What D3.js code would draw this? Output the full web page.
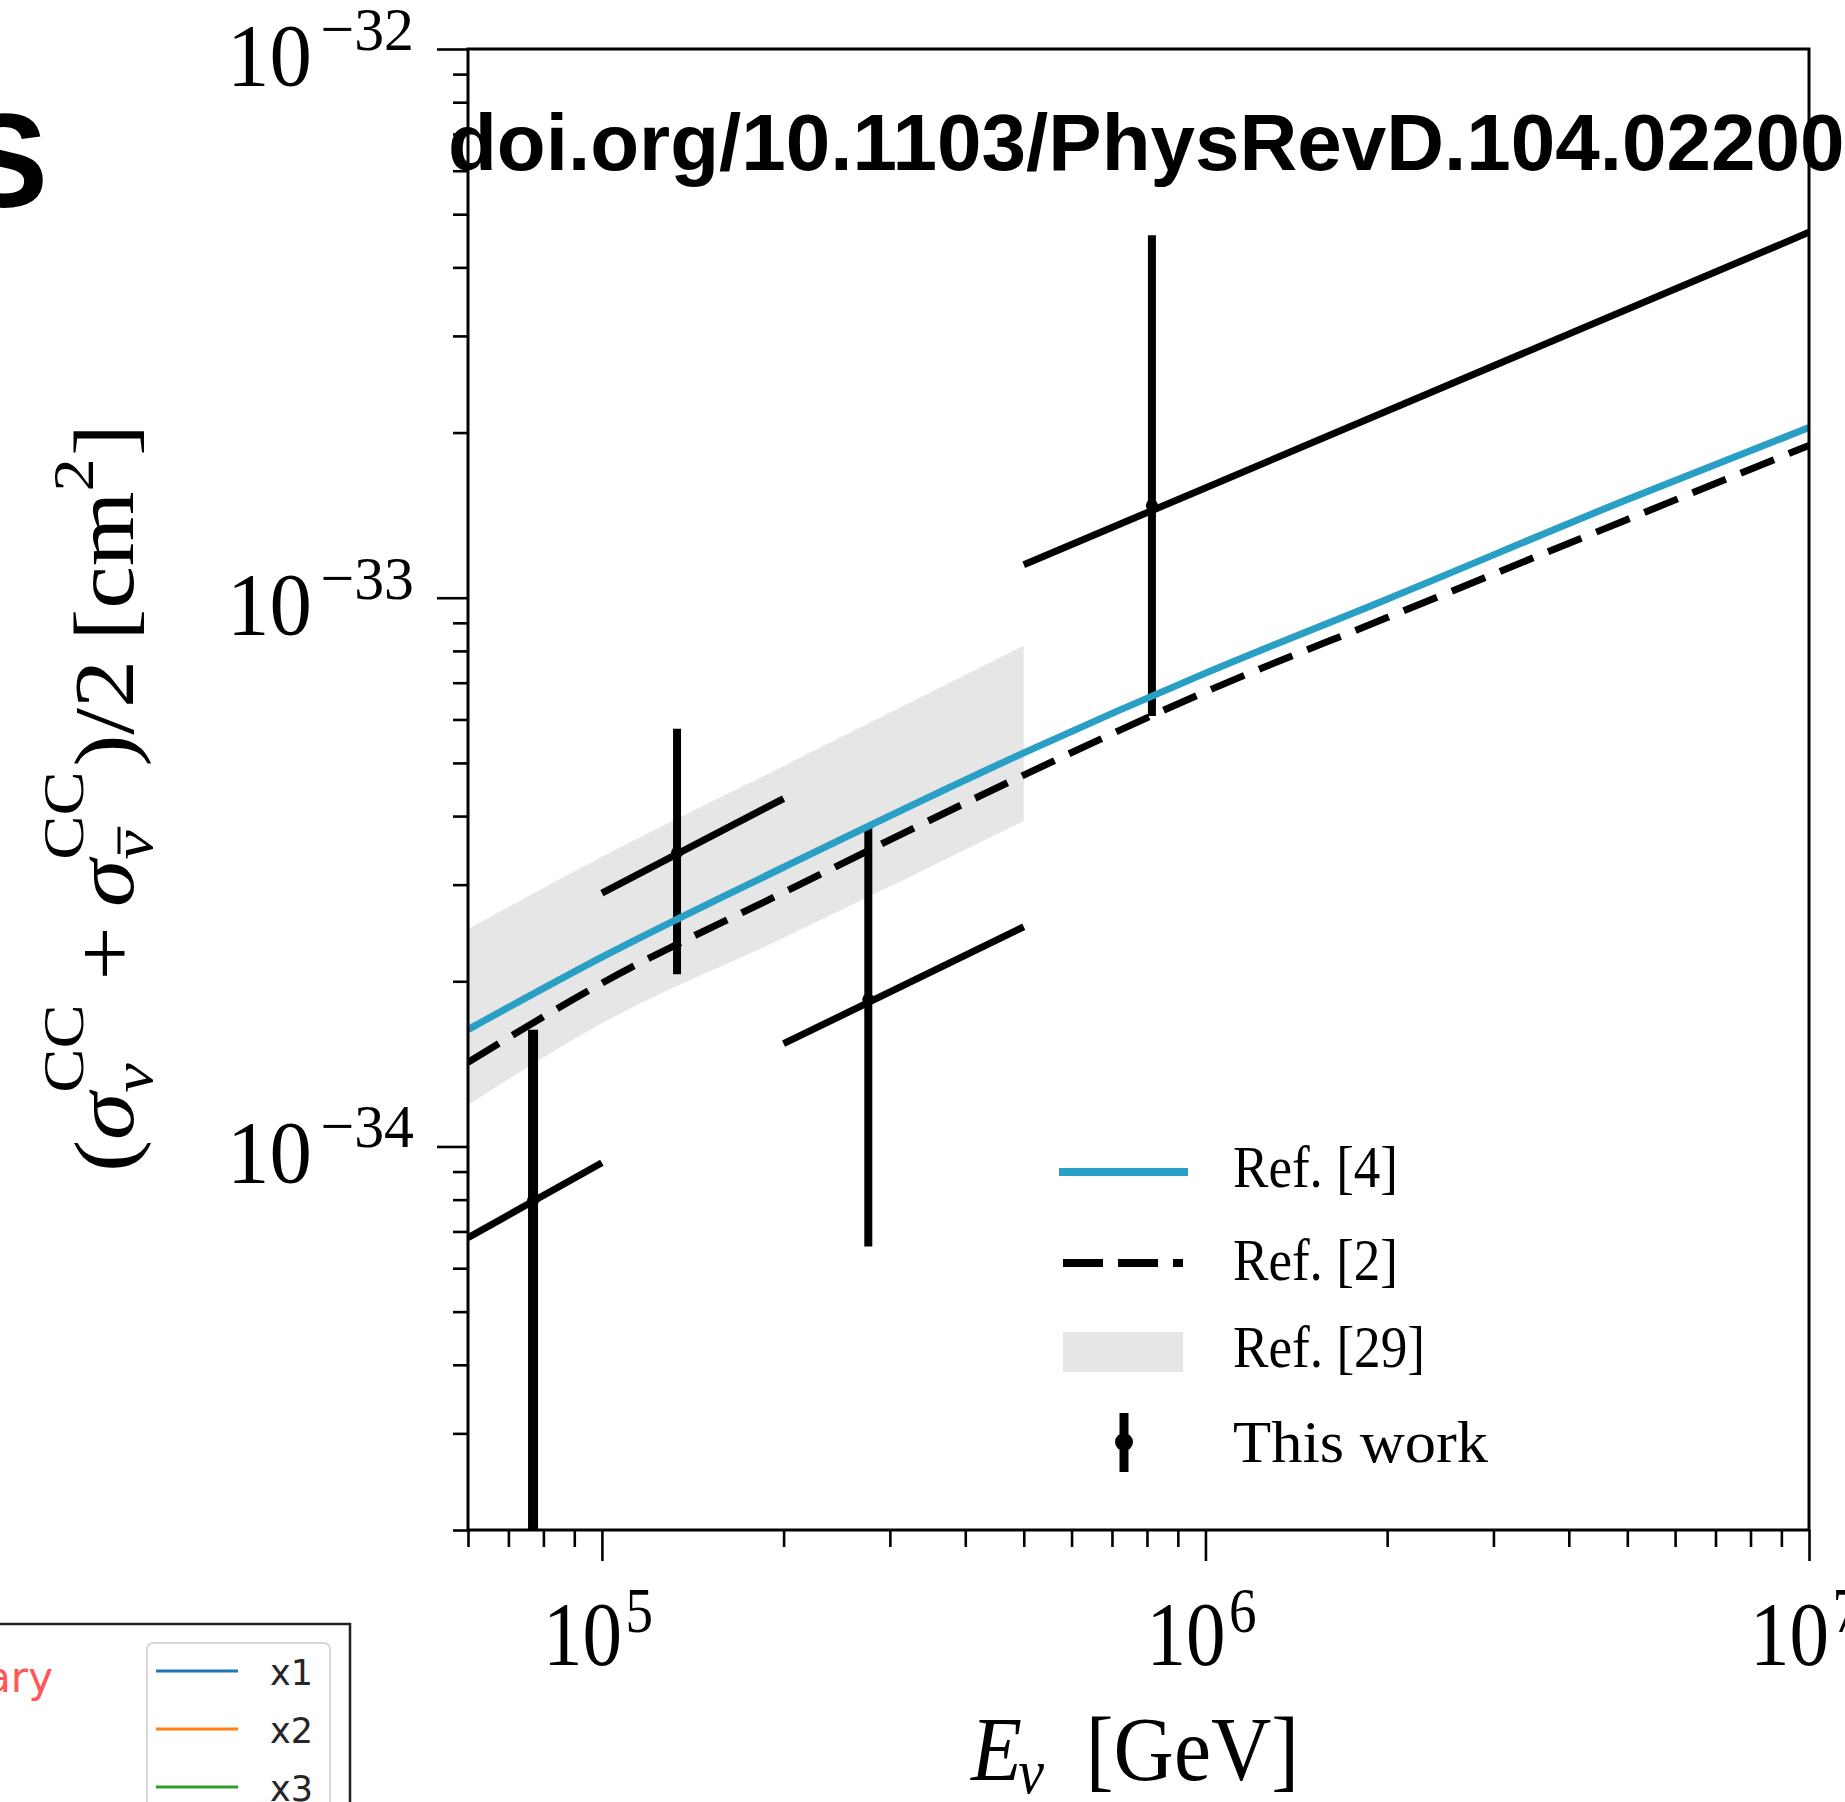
<!DOCTYPE html>
<html><head><meta charset="utf-8">
<script src="https://cdn.jsdelivr.net/npm/d3@7"></script>
<style>body{margin:0;background:#fff;overflow:hidden}</style>
</head><body>
<svg id="c" width="1845" height="1802"></svg>
<script>
// ---------- data ----------
const energyGrid = [6e4, 1e5, 2e5, 5e5, 1e6, 2e6, 5e6, 1e7];
const ref4 = [1.633e-34, 2.213e-34, 3.227e-34, 5.215e-34, 7.288e-34, 9.94e-34, 1.51e-33, 2.042e-33];
const ref2 = [1.423e-34, 1.984e-34, 2.903e-34, 4.751e-34, 6.738e-34, 9.20e-34, 1.389e-33, 1.895e-33];
const bandEnergy = [6e4, 1e5, 2e5, 5e5];
const ref29Upper = [2.49e-34, 3.372e-34, 4.938e-34, 8.178e-34];
const ref29Lower = [1.19e-34, 1.677e-34, 2.40e-34, 3.918e-34];
const binCenter = [7.69e4, 1.332e5, 2.763e5, 8.153e5];
const binLow = [6e4, 1e5, 2e5, 5e5];
const binHigh = [1e5, 2e5, 5e5, 1e7];
const sigmaCentral = [7.97e-35, 3.428e-34, 1.852e-34, 1.472e-33];
const sigmaUp = [1.632e-34, 5.77e-34, 3.837e-34, 4.577e-33];
const sigmaDown = [1e-36, 2.06e-34, 6.57e-35, 6.09e-34];
const segLowVal = [6.82e-35, 2.896e-34, 1.539e-34, 1.148e-33];
const segHighVal = [9.34e-35, 4.305e-34, 2.514e-34, 4.634e-33];
const xTickValues = [1e5, 1e6, 1e7];
const xTickExp = ["5", "6", "7"];
const yTickValues = [1e-34, 1e-33, 1e-32];
const yTickExp = ["\u221234", "\u221233", "\u221232"];
const legendLabels = ["Ref. [4]", "Ref. [2]", "Ref. [29]", "This work"];
const insetLabels = ["x1", "x2", "x3"];
const insetColors = ["#1f77b4", "#ff7f0e", "#2ca02c"];

// ---------- setup ----------
const svg = d3.select("#c");
const SERIF = "'Liberation Serif','DejaVu Serif',serif";
const L = 468, R = 1809, T = 49, B = 1530;
const x = d3.scaleLog().domain([6e4, 1e7]).range([L, R]);
const y = d3.scaleLog().domain([2e-35, 1e-32]).range([B, T]);
const blue = "#2a9fc6";

svg.append("defs").append("clipPath").attr("id", "plotclip")
  .append("rect").attr("x", L).attr("y", T).attr("width", R - L).attr("height", B - T);

// ---------- background texts ----------
svg.append("text").attr("x", 48).attr("y", 207).attr("text-anchor", "end")
  .attr("font-family", "'Liberation Sans',Arial,sans-serif").attr("font-weight", "bold")
  .attr("font-size", 133).text("S");

// inset (another figure, bottom-left)
const inset = svg.append("g");
inset.append("path").attr("d", "M-10,1624 L350,1624 L350,1812").attr("fill", "none")
  .attr("stroke", "#222").attr("stroke-width", 2.5);
inset.append("rect").attr("x", 147).attr("y", 1643).attr("width", 183).attr("height", 200)
  .attr("rx", 6).attr("fill", "#fff").attr("stroke", "#d6d6d6").attr("stroke-width", 2);
insetLabels.forEach((lab, i) => {
  const yy = 1671 + i * 58;
  inset.append("line").attr("x1", 156).attr("x2", 238).attr("y1", yy).attr("y2", yy)
    .attr("stroke", insetColors[i]).attr("stroke-width", 3.2);
  inset.append("text").attr("x", 270).attr("y", yy + 14).attr("font-family", "'DejaVu Sans',sans-serif")
    .attr("font-size", 35).attr("fill", "#262626").text(lab);
});
inset.append("text").attr("x", 53).attr("y", 1692).attr("text-anchor", "end")
  .attr("font-family", "'DejaVu Sans',sans-serif").attr("font-size", 42)
  .attr("fill", "#ff4040").attr("fill-opacity", 0.9).text("ary");

// ---------- data layer ----------
const plot = svg.append("g").attr("clip-path", "url(#plotclip)");

const band = d3.area().x((d, i) => x(bandEnergy[i])).y0((d, i) => y(ref29Lower[i]))
  .y1((d, i) => y(ref29Upper[i])).curve(d3.curveMonotoneX);
plot.append("path").attr("d", band(bandEnergy)).attr("fill", "#e6e6e6");

binCenter.forEach((e, i) => {
  plot.append("line").attr("x1", x(binLow[i])).attr("x2", x(binHigh[i]))
    .attr("y1", y(segLowVal[i])).attr("y2", y(segHighVal[i]))
    .attr("stroke", "#000").attr("stroke-width", 7);
  plot.append("line").attr("x1", x(e)).attr("x2", x(e))
    .attr("y1", y(sigmaUp[i])).attr("y2", y(sigmaDown[i]))
    .attr("stroke", "#000").attr("stroke-width", i === 0 ? 10 : 8);
  plot.append("circle").attr("cx", x(e)).attr("cy", y(sigmaCentral[i])).attr("r", 6).attr("fill", "#000");
});

const line = d3.line().x((d, i) => x(energyGrid[i])).y(d => y(d)).curve(d3.curveMonotoneX);
plot.append("path").attr("d", line(ref2)).attr("fill", "none").attr("stroke", "#000")
  .attr("stroke-width", 7).attr("stroke-dasharray", "36,16");
plot.append("path").attr("d", line(ref4)).attr("fill", "none").attr("stroke", blue)
  .attr("stroke-width", 7);

// ---------- axes ----------
function minorTicks(lo, hi) {
  const out = [];
  for (let p = Math.floor(Math.log10(lo)); p <= Math.ceil(Math.log10(hi)); p++)
    for (let m = 1; m <= 9; m++) { const v = m * Math.pow(10, p); if (v >= lo * 0.999 && v <= hi * 1.001) out.push(v); }
  return out;
}
const xMinor = minorTicks(6e4, 1e7).filter(v => !xTickValues.some(t => Math.abs(t - v) / t < 1e-6));
const yMinor = minorTicks(2e-35, 1e-32).filter(v => !yTickValues.some(t => Math.abs(t - v) / t < 1e-6));

function styleAxis(g) {
  g.select(".domain").remove();
  g.selectAll(".tick line").attr("stroke", "#000").attr("stroke-width", 2.6);
  g.selectAll(".tick text").remove();
}
svg.append("g").attr("transform", `translate(0,${B})`)
  .call(d3.axisBottom(x).tickValues(xMinor).tickSize(17).tickFormat("")).call(styleAxis);
svg.append("g").attr("transform", `translate(0,${B})`)
  .call(d3.axisBottom(x).tickValues(xTickValues).tickSize(31).tickFormat("")).call(styleAxis);
svg.append("g").attr("transform", `translate(${L},0)`)
  .call(d3.axisLeft(y).tickValues(yMinor).tickSize(15).tickFormat("")).call(styleAxis);
svg.append("g").attr("transform", `translate(${L},0)`)
  .call(d3.axisLeft(y).tickValues(yTickValues).tickSize(31).tickFormat("")).call(styleAxis);

svg.append("rect").attr("x", L).attr("y", T).attr("width", R - L).attr("height", B - T)
  .attr("fill", "none").attr("stroke", "#000").attr("stroke-width", 3);

// ---------- text helpers ----------
function txt(parent, s, o) {
  const t = parent.append("text").attr("x", o.x).attr("y", o.y).attr("font-family", o.font || SERIF)
    .attr("font-size", o.size).attr("font-style", o.it ? "italic" : "normal").text(s);
  if (o.w) t.attr("textLength", o.w).attr("lengthAdjust", "spacingAndGlyphs");
  if (o.anchor) t.attr("text-anchor", o.anchor);
  return t;
}
function power(parent, base, exp, o) {
  const t = parent.append("text").attr("x", o.x).attr("y", o.y).attr("font-family", SERIF)
    .attr("font-size", o.size).attr("textLength", o.w).attr("lengthAdjust", "spacingAndGlyphs");
  t.append("tspan").text(base);
  t.append("tspan").attr("dx", o.gap).attr("dy", -o.rise).attr("font-size", o.esize).text(exp);
  return t;
}
yTickValues.forEach((v, i) => {
  power(svg, "10", yTickExp[i], { x: 227, y: y(v) + 36, size: 88, esize: 62, w: 187, gap: 9, rise: 35 });
});
xTickValues.forEach((v, i) => {
  power(svg, "10", xTickExp[i], { x: x(v) - 59, y: 1665, size: 92, esize: 64, w: 110, gap: 4, rise: 33 });
});

// x label
(function () {
  const t = svg.append("text").attr("x", 971).attr("y", 1780).attr("font-family", SERIF)
    .attr("font-size", 92).attr("textLength", 328).attr("lengthAdjust", "spacingAndGlyphs");
  t.append("tspan").attr("font-style", "italic").text("E");
  t.append("tspan").attr("font-style", "italic").attr("font-size", 64).attr("dx", -4).attr("dy", 13).text("\u03BD");
  t.append("tspan").attr("dy", -13).text("\u2002[GeV]");
})();

// y label (rotated), flow layout then fit
(function () {
  const outer = svg.append("g").attr("transform", "translate(133,798) rotate(-90)");
  const g = outer.append("g");
  const F = 84, S = 58;
  const pieces = [
    { t: "(" }, { t: "\u03C3", it: true },
    { stack: [{ t: "CC", dy: -50 }, { t: "\u03BD", it: true, dy: 19 }] },
    { t: "\u2009+\u2009" }, { t: "\u03C3", it: true },
    { stack: [{ t: "CC", dy: -50 }, { t: "\u03BD", it: true, dy: 19, bar: true }] },
    { t: ")/2\u2009[cm" }, { sup: { t: "2", dy: -40 } }, { t: "]" }
  ];
  let cx = 0;
  pieces.forEach(p => {
    if (p.stack) {
      let w = 0;
      p.stack.forEach(q => {
        const t = txt(g, q.t, { x: cx, y: q.dy, size: S, it: q.it });
        const tw = t.node().getComputedTextLength();
        if (q.bar) g.append("line").attr("x1", cx + 5).attr("x2", cx + tw + 3)
          .attr("y1", q.dy - 33).attr("y2", q.dy - 33).attr("stroke", "#000").attr("stroke-width", 3);
        w = Math.max(w, tw);
      });
      cx += w + 4;
    } else if (p.sup) {
      const t = txt(g, p.sup.t, { x: cx, y: p.sup.dy, size: S });
      cx += t.node().getComputedTextLength() + 2;
    } else {
      const t = txt(g, p.t, { x: cx, y: 0, size: F, it: p.it });
      cx += t.node().getComputedTextLength();
    }
  });
  const target = 748;
  g.attr("transform", `scale(${target / cx},1) translate(${-cx / 2},0)`);
})();

// ---------- legend ----------
const lg = svg.append("g");
lg.append("line").attr("x1", 1059).attr("x2", 1188).attr("y1", 1172).attr("y2", 1172)
  .attr("stroke", blue).attr("stroke-width", 8);
lg.append("line").attr("x1", 1063).attr("x2", 1183).attr("y1", 1263).attr("y2", 1263)
  .attr("stroke", "#000").attr("stroke-width", 8).attr("stroke-dasharray", "40,15");
lg.append("rect").attr("x", 1063).attr("y", 1332).attr("width", 120).attr("height", 40).attr("fill", "#e6e6e6");
lg.append("line").attr("x1", 1124).attr("x2", 1124).attr("y1", 1413).attr("y2", 1472)
  .attr("stroke", "#000").attr("stroke-width", 9);
lg.append("circle").attr("cx", 1124).attr("cy", 1442).attr("r", 9).attr("fill", "#000");
const legBase = [1187, 1280, 1367, 1462];
const legW = [165, 165, 192, 255];
legendLabels.forEach((s, i) => txt(lg, s, { x: 1233, y: legBase[i], size: 60, w: legW[i] }));

// watermark doi text
svg.append("text").attr("x", 448).attr("y", 170)
  .attr("font-family", "'Liberation Sans',Arial,sans-serif").attr("font-weight", "bold")
  .attr("font-size", 80).attr("fill", "#000").text("doi.org/10.1103/PhysRevD.104.02200");
</script>
</body></html>
